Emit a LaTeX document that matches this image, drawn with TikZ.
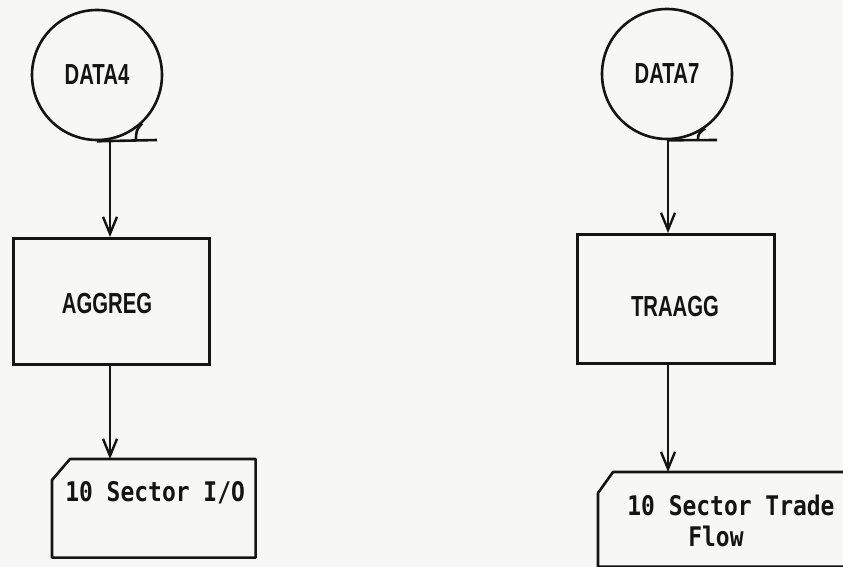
\documentclass[tikz,border=0pt]{standalone}
\usepackage{fontspec}
\setmainfont{Liberation Sans}
\newfontfamily\condsans[FakeStretch=0.7]{Liberation Sans}
\newfontfamily\monotype[FakeStretch=0.85]{DejaVu Sans Mono}
\usetikzlibrary{arrows.meta,calc}
\definecolor{paper}{RGB}{247,247,245}
\definecolor{ink}{RGB}{20,20,20}
\begin{document}
\begin{tikzpicture}[x=1pt,y=-1pt,line width=2.6pt,draw=ink,
  tape/.style={circle,draw,minimum size=130pt,inner sep=0pt,text=ink,font=\condsans\bfseries\fontsize{29}{29}\selectfont},
  procbox/.style={rectangle,draw,inner sep=0pt,anchor=north west},
  labeltext/.style={inner sep=0pt,text=ink,font=\condsans\bfseries\fontsize{29}{29}\selectfont},
  cardarea/.style={rectangle,inner sep=0pt,anchor=north west},
  cardtext/.style={inner sep=0pt,anchor=west,align=left,text=ink,font=\monotype\bfseries\fontsize{27}{31}\selectfont},
  flowarrow/.style={-{Straight Barb[length=17pt,width=14pt,line width=2.4pt]}},
  cardline/.style={line join=round}]
\clip (0,0) rectangle (843,567);
\fill[paper] (0,0) rectangle (843,567);

% ---------- left column ----------
\node[tape] (d4) at (97,75) {DATA4};
\coordinate (d4hook) at (136,140);
\coordinate (d4end) at (157,140);
\coordinate (d4out) at (110,140);
\draw (d4.-47) .. controls ($(d4.-47)+(-6,6)$) and (136,132) .. (d4hook);
\draw (d4.south) -- (d4end);

\node[procbox,minimum width=196pt,minimum height=126pt] (agg) at (12,237) {};
\node[labeltext] (aggt) at (107,304) {AGGREG};

\node[cardarea,minimum width=201pt,minimum height=96pt] (io) at (52,459) {};
\draw[cardline] (io.south west) -- ($(io.north west)+(0,21)$) -- ($(io.north west)+(18,0)$)
  -- (io.north east) -- (io.south east) -- cycle;
\node[cardtext] (iot) at (64,493) {10 Sector I/O};

\draw[flowarrow] (d4out) -- (agg.north -| d4out);
\draw[flowarrow] (agg.south -| d4out) -- (io.north -| d4out);

% ---------- right column ----------
\node[tape] (d7) at (667,74) {DATA7};
\coordinate (d7hook) at (698,140);
\coordinate (d7end) at (717,140);
\coordinate (d7out) at (668,140);
\draw (d7.-55) .. controls ($(d7.-55)+(-6,5)$) and (698,133) .. (d7hook);
\draw (d7.south) -- (d7end);

\node[procbox,minimum width=197pt,minimum height=129pt] (tra) at (576,233) {};
\node[labeltext] (trat) at (675,307) {TRAAGG};

\node[cardarea,minimum width=270pt,minimum height=92pt] (tf) at (598,472) {};
\draw[cardline] (tf.south west) -- ($(tf.north west)+(0,21)$) -- ($(tf.north west)+(15,0)$)
  -- (tf.north east) -- (tf.south east) -- cycle;
\node[cardtext,anchor=north west] (tft) at (626,494) {10 Sector Trade\\\hspace*{61pt}Flow};

\draw[flowarrow] (d7out) -- (tra.north -| d7out);
\draw[flowarrow] (tra.south -| d7out) -- (tf.north -| d7out);
\end{tikzpicture}
\end{document}
